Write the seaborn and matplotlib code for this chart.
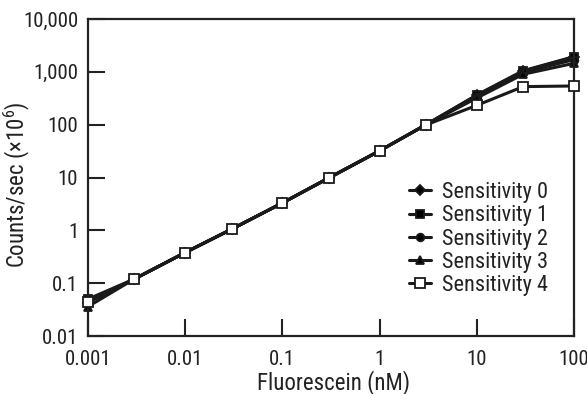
import numpy as np
import pandas as pd
import matplotlib
matplotlib.use("Agg")
import matplotlib.pyplot as plt
import seaborn as sns
from matplotlib.ticker import FixedLocator, FixedFormatter, NullLocator
import logging
logging.getLogger('matplotlib.font_manager').setLevel(logging.ERROR)

conc = [0.001, 0.003, 0.01, 0.03, 0.1, 0.3, 1, 3, 10, 30, 100]
sens0 = [0.043, 0.12, 0.38, 1.05, 3.3, 9.8, 32, 100, 365, 1050, 1940]
sens1 = [0.050, 0.12, 0.38, 1.05, 3.3, 9.8, 32, 100, 360, 1030, 1900]
sens2 = [0.045, 0.12, 0.38, 1.05, 3.3, 9.8, 32, 100, 340, 980, 1700]
sens3 = [0.036, 0.12, 0.38, 1.05, 3.3, 9.8, 32, 100, 320, 900, 1450]
sens4 = [0.044, 0.12, 0.38, 1.05, 3.3, 9.8, 32, 99, 232, 525, 540]
series_names = ["Sensitivity 0", "Sensitivity 1", "Sensitivity 2", "Sensitivity 3", "Sensitivity 4"]
y_ticks = [0.01, 0.1, 1, 10, 100, 1000, 10000]
y_labels = ["0.01", "0.1", "1", "10", "100", "1,000", "10,000"]
x_ticks = [0.001, 0.01, 0.1, 1, 10, 100]
x_labels = ["0.001", "0.01", "0.1", "1", "10", "100"]

sns.set_theme(style="white")
plt.rcParams['font.family'] = ['Roboto Condensed', 'Liberation Sans Narrow', 'Roboto', 'DejaVu Sans']
plt.rcParams['mathtext.fontset'] = 'custom'
plt.rcParams['mathtext.rm'] = 'Roboto Condensed'

rows = []
for name, vals in zip(series_names, [sens0, sens1, sens2, sens3, sens4]):
    for c, v in zip(conc, vals):
        rows.append({"conc": c, "value": v, "series": name})
df = pd.DataFrame(rows)

fig = plt.figure(figsize=(5.87, 3.94), dpi=100)
ax = fig.add_axes([88/587, 1-336/394, (574-88)/587, (336-19)/394])

markers = {"Sensitivity 0": "D", "Sensitivity 1": "s", "Sensitivity 2": "o",
           "Sensitivity 3": "^", "Sensitivity 4": "s"}
for name in series_names:
    sub = df[df.series == name]
    face = "white" if name == "Sensitivity 4" else "black"
    ms = 7 if name == "Sensitivity 4" else 5.5
    sns.lineplot(data=sub, x="conc", y="value", ax=ax, color="#1a1a1a", lw=2.2,
                 marker=markers[name], markersize=ms, markerfacecolor=face,
                 markeredgecolor="#1a1a1a", markeredgewidth=1.3, label=name,
                 zorder=3 if name == "Sensitivity 4" else 2, clip_on=False)

ax.set_xscale("log")
ax.set_yscale("log")
ax.set_xlim(0.001, 100)
ax.set_ylim(0.01, 10000)
ax.xaxis.set_major_locator(FixedLocator(x_ticks))
ax.xaxis.set_major_formatter(FixedFormatter(x_labels))
ax.yaxis.set_major_locator(FixedLocator(y_ticks))
ax.yaxis.set_major_formatter(FixedFormatter(y_labels))
ax.xaxis.set_minor_locator(NullLocator())
ax.yaxis.set_minor_locator(NullLocator())
ax.tick_params(axis="both", which="major", direction="in", length=12, width=1.5,
               labelsize=15, colors="#222222", bottom=True, left=True,
               top=False, right=False)
ax.tick_params(axis="x", pad=10)
ax.tick_params(axis="y", pad=7)
for s in ax.spines.values():
    s.set_color("#222222")
    s.set_linewidth(1.6)
    s.set_visible(True)
for lbl in ax.get_xticklabels() + ax.get_yticklabels():
    lbl.set_color("#222222")

ax.set_xlabel("Fluorescein (nM)", fontsize=16.5, color="#222222")
ax.set_ylabel("Counts/sec (×10$^6$)", fontsize=16.5, color="#222222")
ax.xaxis.set_label_coords(0.506, -0.108)
ax.yaxis.set_label_coords(-0.115, 0.476)

leg = ax.legend(loc="lower right", bbox_to_anchor=(0.947, 0.126), frameon=False,
                fontsize=16, handlelength=1.0, handletextpad=0.5,
                labelspacing=0.1, borderaxespad=0.0, borderpad=0.0)
for t in leg.get_texts():
    t.set_color("#222222")

fig.savefig("out.png", dpi=100)
